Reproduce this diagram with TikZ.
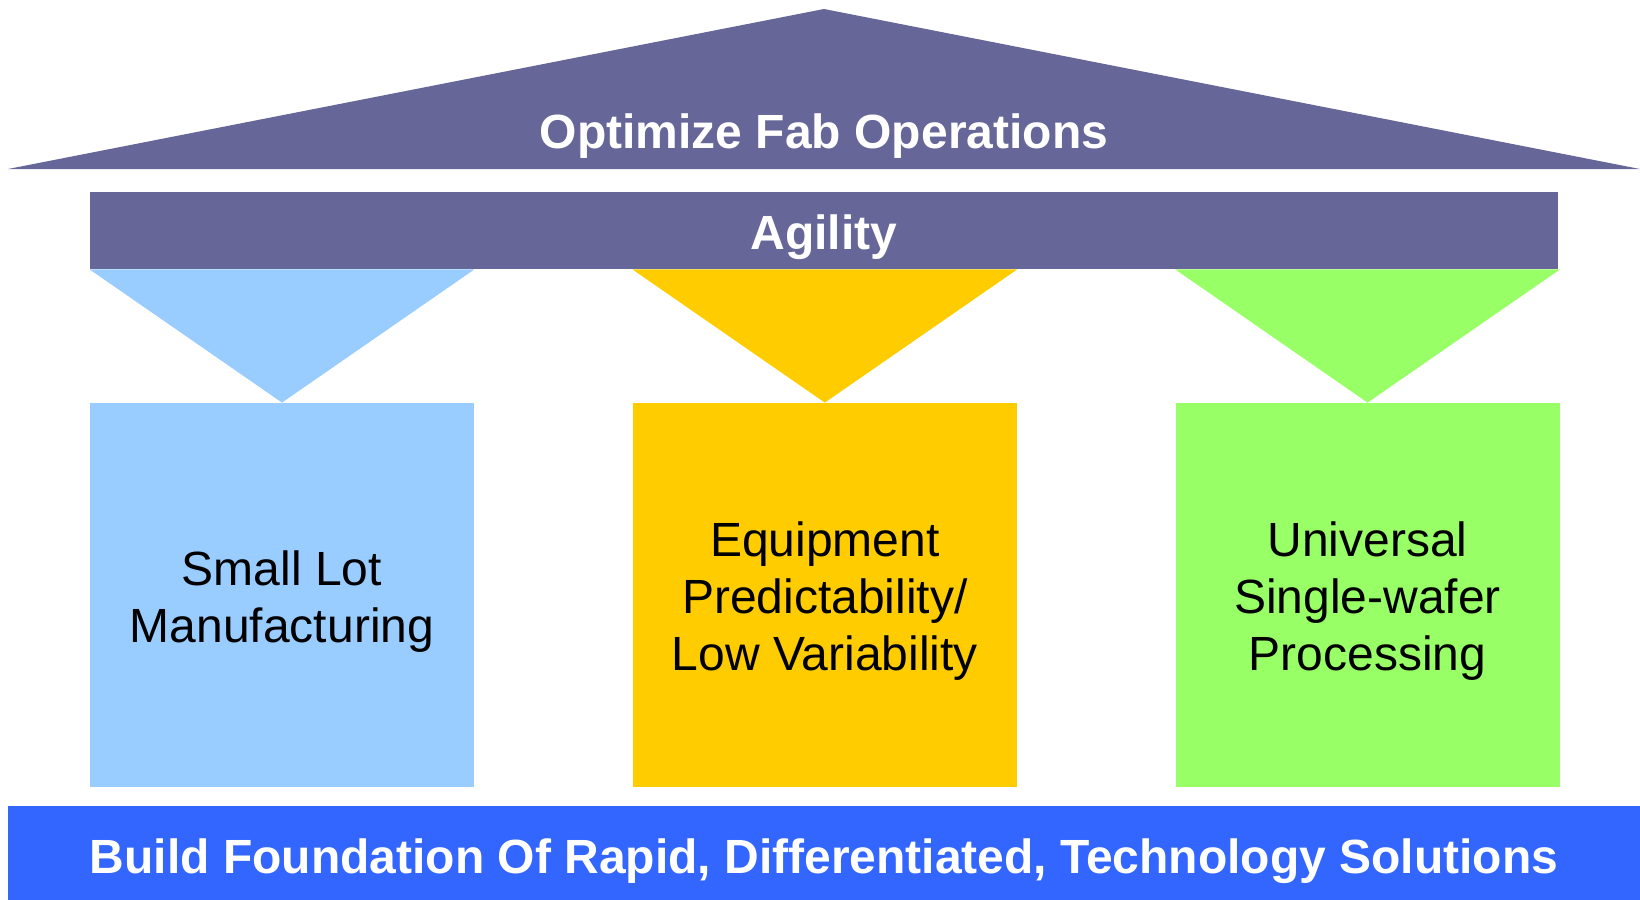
\documentclass[tikz,border=0pt]{standalone}
\usepackage{fontspec}
\setmainfont{Liberation Sans}
\usetikzlibrary{positioning}

\definecolor{roofpurple}{HTML}{666699}
\definecolor{lotblue}{HTML}{99CCFF}
\definecolor{equipgold}{HTML}{FFCC00}
\definecolor{wafergreen}{HTML}{99FF66}
\definecolor{basisblue}{HTML}{3366FF}

\begin{document}
\begin{tikzpicture}[
    x=0.5pt, y=-0.5pt,
    node distance=79pt,
    bigtext/.style={font=\fontsize{24}{28.5}\selectfont},
    headline/.style={font=\fontsize{24}{28.5}\selectfont\bfseries, text=white, anchor=base, inner sep=0pt},
    bar/.style={rectangle, inner sep=0pt},
    pillar/.style={rectangle, minimum width=192pt, minimum height=192pt, inner sep=0pt},
    pillartext/.style={align=center, bigtext, inner sep=0pt}
]
\useasboundingbox (0,0) rectangle (1640,900);

% Roof
\fill[roofpurple] (8,169) -- (824,9) -- (1640,169) -- cycle;
\node[headline] (roof) at (824,148) {Optimize Fab Operations};

% Agility beam
\node[bar, fill=roofpurple, minimum width=734pt, minimum height=38.5pt] (agility) at (824,230.5) {};
\node[headline] (agility-text) at (824,249) {Agility};

% Pillars
\node[pillar, fill=lotblue] (smalllot) at (282,595) {};
\node[pillar, fill=equipgold, right=of smalllot] (equip) {};
\node[pillar, fill=wafergreen, right=of equip] (wafer) {};
\node[pillartext] (smalllot-text) at ([yshift=-3.2pt]smalllot.center) {Small Lot\\Manufacturing};
\node[pillartext] (equip-text) at ([yshift=-3.2pt]equip.center) {Equipment\\Predictability/\\Low Variability};
\node[pillartext] (wafer-text) at ([yshift=-3.2pt]wafer.center) {Universal\\Single-wafer\\Processing};

% Funnels
\fill[lotblue] (smalllot.north west |- agility.south) -- (smalllot.north east |- agility.south) -- (smalllot.north) -- cycle;
\fill[equipgold] (equip.north west |- agility.south) -- (equip.north east |- agility.south) -- (equip.north) -- cycle;
\fill[wafergreen] (wafer.north west |- agility.south) -- (wafer.north east |- agility.south) -- (wafer.north) -- cycle;

% Foundation
\node[bar, fill=basisblue, minimum width=816pt, minimum height=47pt] (basis) at (824,853) {};
\node[headline] (basis-text) at (824,873) {Build Foundation Of Rapid, Differentiated, Technology Solutions};

\end{tikzpicture}
\end{document}
